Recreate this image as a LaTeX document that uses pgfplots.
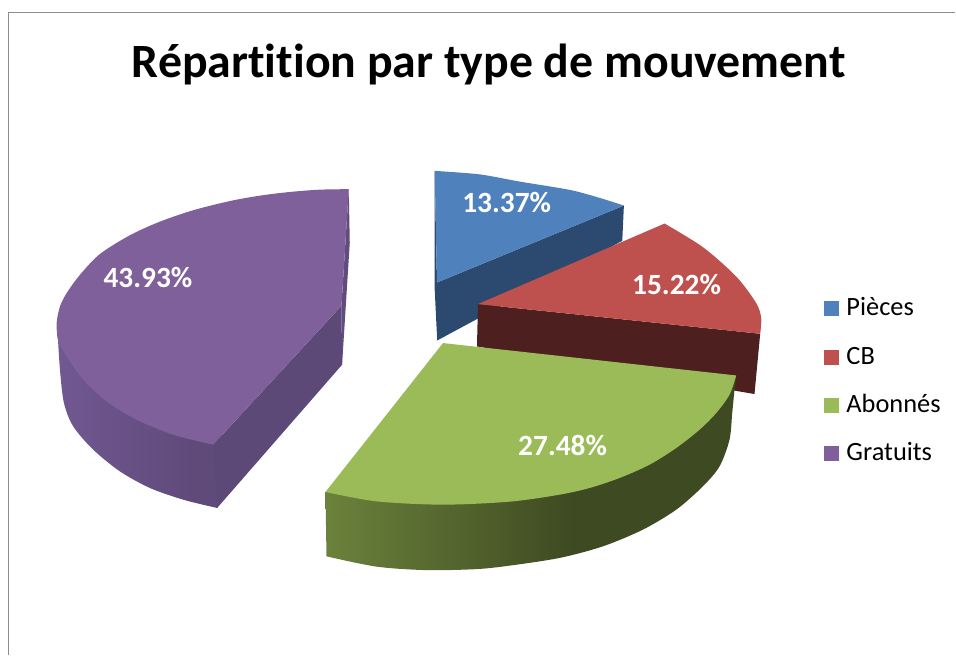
\documentclass[border=0pt]{standalone}
\usepackage{pgfplots}
\pgfplotsset{compat=1.18}
\usepackage{fontspec}
\setmainfont{Carlito}[Ligatures=NoCommon]
\definecolor{bluetop}{RGB}{79,129,189}
\definecolor{blueside}{RGB}{44,74,112}
\definecolor{redtop}{RGB}{190,80,77}
\definecolor{redside}{RGB}{78,31,31}
\definecolor{greentop}{RGB}{155,187,89}
\definecolor{purpletop}{RGB}{127,96,155}
\definecolor{purpleside}{RGB}{93,73,120}
\definecolor{framegray}{RGB}{140,140,140}
\definecolor{gl}{RGB}{107,130,60}
\definecolor{gd}{RGB}{62,74,33}
\definecolor{pl}{RGB}{113,88,146}
\definecolor{pd}{RGB}{96,74,122}
\pgfdeclarehorizontalshading{greenside}{100bp}{color(0bp)=(gl); color(25bp)=(gl); color(55bp)=(gd); color(100bp)=(gd)}
\pgfdeclarehorizontalshading{purpleshade}{100bp}{color(0bp)=(pl); color(25bp)=(pl); color(65bp)=(pd); color(100bp)=(pd)}
\begin{document}
\begin{tikzpicture}
\begin{axis}[
  scale only axis, width=956bp, height=655bp,
  xmin=0, xmax=956, ymin=0, ymax=655, y dir=reverse,
  axis lines=none, clip=false,
  legend style={at={(axis cs:825,298)}, anchor=north west, draw=none, fill=none,
    font=\fontsize{26.5}{28}\selectfont, row sep=24.3bp, column sep=7bp, inner sep=0pt, outer sep=0pt,
    nodes={inner sep=0pt, text height=18bp, text depth=6bp}},
  legend cell align=left,
  legend image code/.code={\fill[#1] (0bp,-6.5bp) rectangle (15bp,8.5bp);},
]
\addlegendimage{draw=none, fill=bluetop}
\addlegendentry{Pièces}
\addlegendimage{draw=none, fill=redtop}
\addlegendentry{CB}
\addlegendimage{draw=none, fill=greentop}
\addlegendentry{Abonnés}
\addlegendimage{draw=none, fill=purpletop}
\addlegendentry{Gratuits}
\path (axis cs:0,0) -- (axis cs:956,655);
% frame
\addplot[forget plot, framegray, line width=1.3bp] coordinates {(8.3,655) (8.3,12.7) (956,12.7)};
% purple side (curved)
\addplot[forget plot, smooth, draw=none, shading=purpleshade] coordinates {
 (57.5,330)(60,370)(64,403.3)(73.3,426.7)(93.3,450)(120,471.7)(150,488.3)(183.3,500)(217.3,508.3)} -- (axis cs:225,490) -- (axis cs:225,440) -- (axis cs:150,300) -- cycle;
% purple side (flat faces)
\addplot[forget plot, draw=none, fill=purpleside] coordinates {(213.3,445)(341.7,306)(342.3,365)(217.3,508.3)} -- cycle;
\addplot[forget plot, draw=none, fill=purpleside!85!purpletop] coordinates {(349,189.3)(350,243)(342.3,365)(341.7,306)} -- cycle;
% purple top
\addplot[forget plot, smooth, draw=none, fill=purpletop] coordinates {
 (349,189.3)(320,189.8)(290,192.1)(260,195.8)(230,201.2)(193.3,210.4)(160,221.8)(130,235.4)(100,254.2)(80,275)(66.7,293.3)(60,306.7)(56.7,323.3)(58.3,341.7)(66.7,356.7)(83.3,380)(106.7,401.7)(136.7,420)(173.3,435)(213.3,445)} -- (axis cs:341.7,306) -- cycle;
% blue
\addplot[forget plot, draw=none, fill=blueside] coordinates {(435,171)(437.3,282.7)(437.5,340.7)(435,290)} -- cycle;
\addplot[forget plot, draw=none, fill=blueside] coordinates {(624.3,205.7)(622.7,241)(437.5,340.7)(437.3,282.7)} -- cycle;
\addplot[forget plot, smooth, draw=none, fill=bluetop] coordinates {
 (435,171)(480,174.5)(520,181.7)(570,190)(600,198)(624.3,205.7)} -- (axis cs:437.3,282.7) -- cycle;
% red
\addplot[forget plot, draw=none, fill=redside] coordinates {(478.3,304.3)(760.7,334)(755,394.3)(477.3,346.7)} -- cycle;
\addplot[forget plot, smooth, draw=none, fill=redtop] coordinates {
 (665,223.7)(703.3,247.3)(736.7,276.7)(756.7,303.3)(761.7,318.3)(760.7,334)} -- (axis cs:478.3,304.3) -- cycle;
% green side
\addplot[forget plot, smooth, draw=none, shading=greenside] coordinates {
 (326.7,556.7)(376.7,567)(426.7,570.5)(476.7,569.5)(510,566)(560,558.3)(603.3,546.7)(643.3,530)(676.7,510)(703.3,486.7)(720,466.7)(730,440)(732.7,413.3)(735,390)} -- (axis cs:736.7,375.7) -- (axis cs:600,400) -- (axis cs:325.7,492.3) -- cycle;
% green top
\addplot[forget plot, smooth, draw=none, fill=greentop] coordinates {
 (736.7,375.7)(730,395)(716.7,413.3)(700,430)(676.7,448.3)(650,465)(620,478.3)(590,488.3)(560,495)(510,502)(443,505)(376.7,501.7)(325.7,492.3)} -- (axis cs:443.3,343.3) -- cycle;
% texts
\node[anchor=center, font=\fontsize{48}{52}\selectfont\bfseries] at (axis cs:489,65) {Répartition par type de mouvement};
\node[text=white, font=\fontsize{29.5}{31}\selectfont\bfseries] at (axis cs:507,203) {13.37\%};
\node[text=white, font=\fontsize{29.5}{31}\selectfont\bfseries] at (axis cs:677,285) {15.22\%};
\node[text=white, font=\fontsize{29.5}{31}\selectfont\bfseries] at (axis cs:563,446) {27.48\%};
\node[text=white, font=\fontsize{29.5}{31}\selectfont\bfseries] at (axis cs:148,278) {43.93\%};
\end{axis}
\end{tikzpicture}
\end{document}
